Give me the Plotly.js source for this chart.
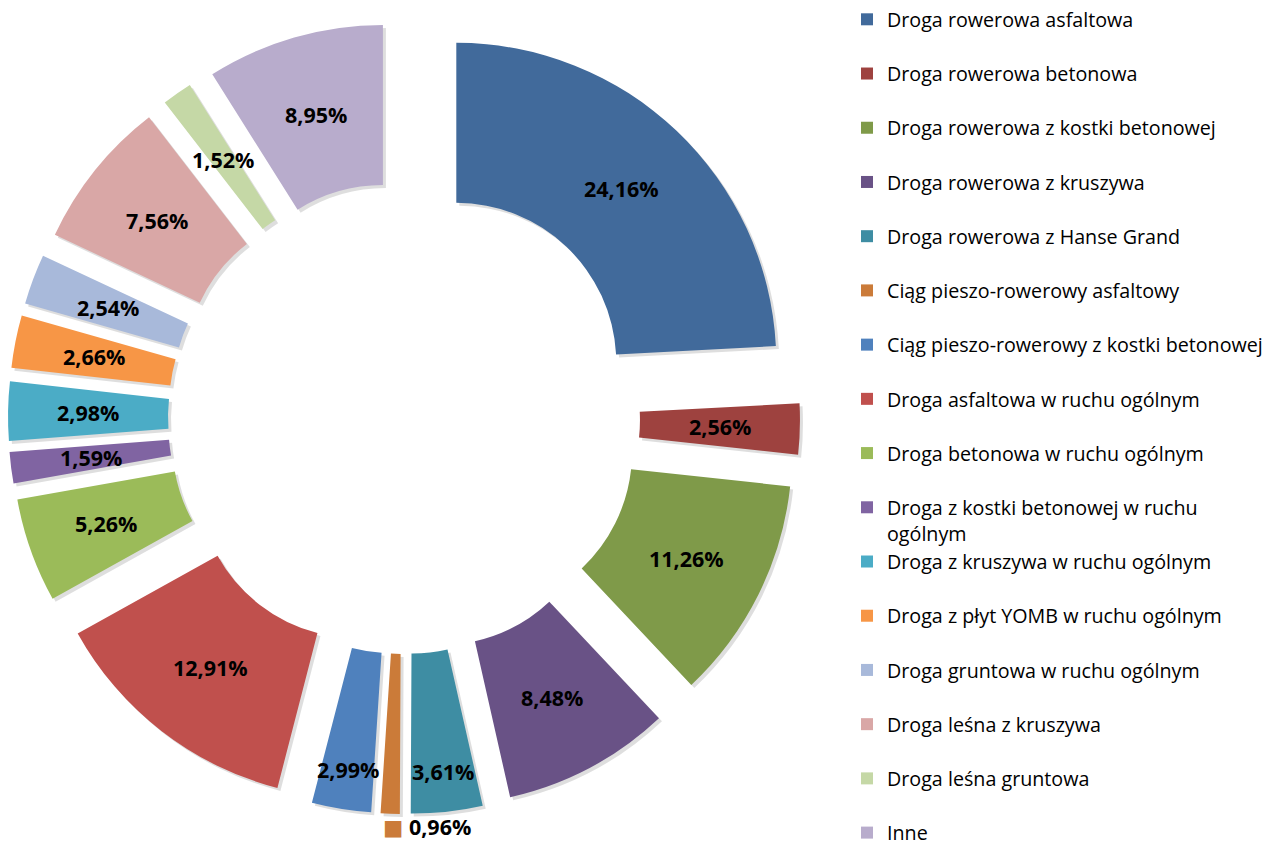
<!DOCTYPE html>
<html>
<head>
<meta charset="utf-8">
<script src="https://cdn.plot.ly/plotly-3.0.1.min.js"></script>
<style>html,body{margin:0;padding:0;background:#fff;}#chart{width:1276px;height:846px;}</style>
</head>
<body>
<div id="chart"></div>
<script>
// ---- data ----
const categories = [
  "Droga rowerowa asfaltowa",
  "Droga rowerowa betonowa",
  "Droga rowerowa z kostki betonowej",
  "Droga rowerowa z kruszywa",
  "Droga rowerowa z Hanse Grand",
  "Ciąg pieszo-rowerowy asfaltowy",
  "Ciąg pieszo-rowerowy z kostki betonowej",
  "Droga asfaltowa w ruchu ogólnym",
  "Droga betonowa w ruchu ogólnym",
  "Droga z kostki betonowej w ruchu<br>ogólnym",
  "Droga z kruszywa w ruchu ogólnym",
  "Droga z płyt YOMB w ruchu ogólnym",
  "Droga gruntowa w ruchu ogólnym",
  "Droga leśna z kruszywa",
  "Droga leśna gruntowa",
  "Inne"
];
const shares = [24.16, 2.56, 11.26, 8.48, 3.61, 0.96, 2.99, 12.91, 5.26, 1.59, 2.98, 2.66, 2.54, 7.56, 1.52, 8.95];
const colors = [
  "#416A9B", "#9E423F", "#7F9A49", "#695286", "#3E8DA3", "#CB7B39",
  "#4F81BD", "#C0504D", "#9BBB59", "#8064A2", "#4BACC6", "#F79646",
  "#A8B9DA", "#D9A7A6", "#C5D8A6", "#B8ACCC"
];
const outsideIndex = 5; // label drawn outside with its colour key, as in the reference

// ---- layout helpers ----
const W = 1276, H = 846;
const cx = 404, cy = 418, pullFrac = 0.2375, R = 320, hole = 0.5;
const half = R * (1 + pullFrac);
function dom(dx, dy) {
  return {
    x: [(cx - half + dx) / W, (cx + half + dx) / W],
    y: [(H - (cy + half + dy)) / H, (H - (cy - half + dy)) / H]
  };
}
const lastIdx = categories.length - 1;
const legendLabels = categories.map((c, i) => (c.indexOf('<br>') >= 0 || i === lastIdx) ? c : c + '<br> ');
const pulls = shares.map(() => pullFrac);

const FONT = 'Open Sans, Liberation Sans, Arial, sans-serif';

// data labels: placed in the middle of each (pulled) ring segment
const total = shares.reduce((a, b) => a + b, 0);
const ringMid = R * pullFrac + R * (1 + hole) / 2;
const radiusOverride = { 4: ringMid + 40, 6: ringMid + 40 };
let cum = 0;
const annotations = shares.map((v, i) => {
  const mid = (cum + v / 2) / total;
  cum += v;
  const th = mid * 2 * Math.PI;
  const txt = v.toFixed(2).replace('.', ',') + '%';
  let rho = radiusOverride[i] || ringMid;
  const a = {
    xref: 'paper', yref: 'paper', showarrow: false,
    xanchor: 'center', yanchor: 'middle',
    font: { family: FONT, size: 21.5, color: '#000', weight: 'bold' },
    text: txt
  };
  if (i === outsideIndex) {
    rho = R * (1 + pullFrac) + 13;
    a.xanchor = 'left';
    a.xshift = -9;
    a.text = '<span style="color:' + colors[i] + ';font-family:DejaVu Sans">■</span> ' + txt;
  }
  a.x = (cx + rho * Math.sin(th)) / W;
  a.y = 1 - (cy - rho * Math.cos(th)) / H;
  return a;
});

const shadow = {
  type: 'pie', labels: legendLabels, values: shares, sort: false,
  direction: 'clockwise', rotation: 0, hole: hole, pull: pulls,
  domain: dom(3, 3), showlegend: false, textinfo: 'none', hoverinfo: 'skip',
  marker: { colors: shares.map(() => 'rgba(0,0,0,0.13)'), line: { width: 0 } }
};

const main = {
  type: 'pie', labels: legendLabels, values: shares, sort: false,
  direction: 'clockwise', rotation: 0, hole: hole, pull: pulls,
  domain: dom(0, 0),
  marker: { colors: colors, line: { width: 0 } },
  textinfo: 'none',
  hovertemplate: '%{label}: %{value:.2f}%<extra></extra>'
};

const layout = {
  width: W, height: H,
  margin: { l: 0, r: 0, t: 0, b: 0 },
  paper_bgcolor: '#fff', plot_bgcolor: '#fff',
  showlegend: true,
  legend: {
    x: 847 / W, xanchor: 'left', y: 1, yanchor: 'top',
    font: { family: FONT, size: 19.7, color: '#000' },
    valign: 'top', traceorder: 'normal', bgcolor: 'rgba(0,0,0,0)'
  },
  annotations: annotations,
  font: { family: FONT }
};

Plotly.newPlot('chart', [shadow, main], layout, { displayModeBar: false, staticPlot: true });
</script>
</body>
</html>
